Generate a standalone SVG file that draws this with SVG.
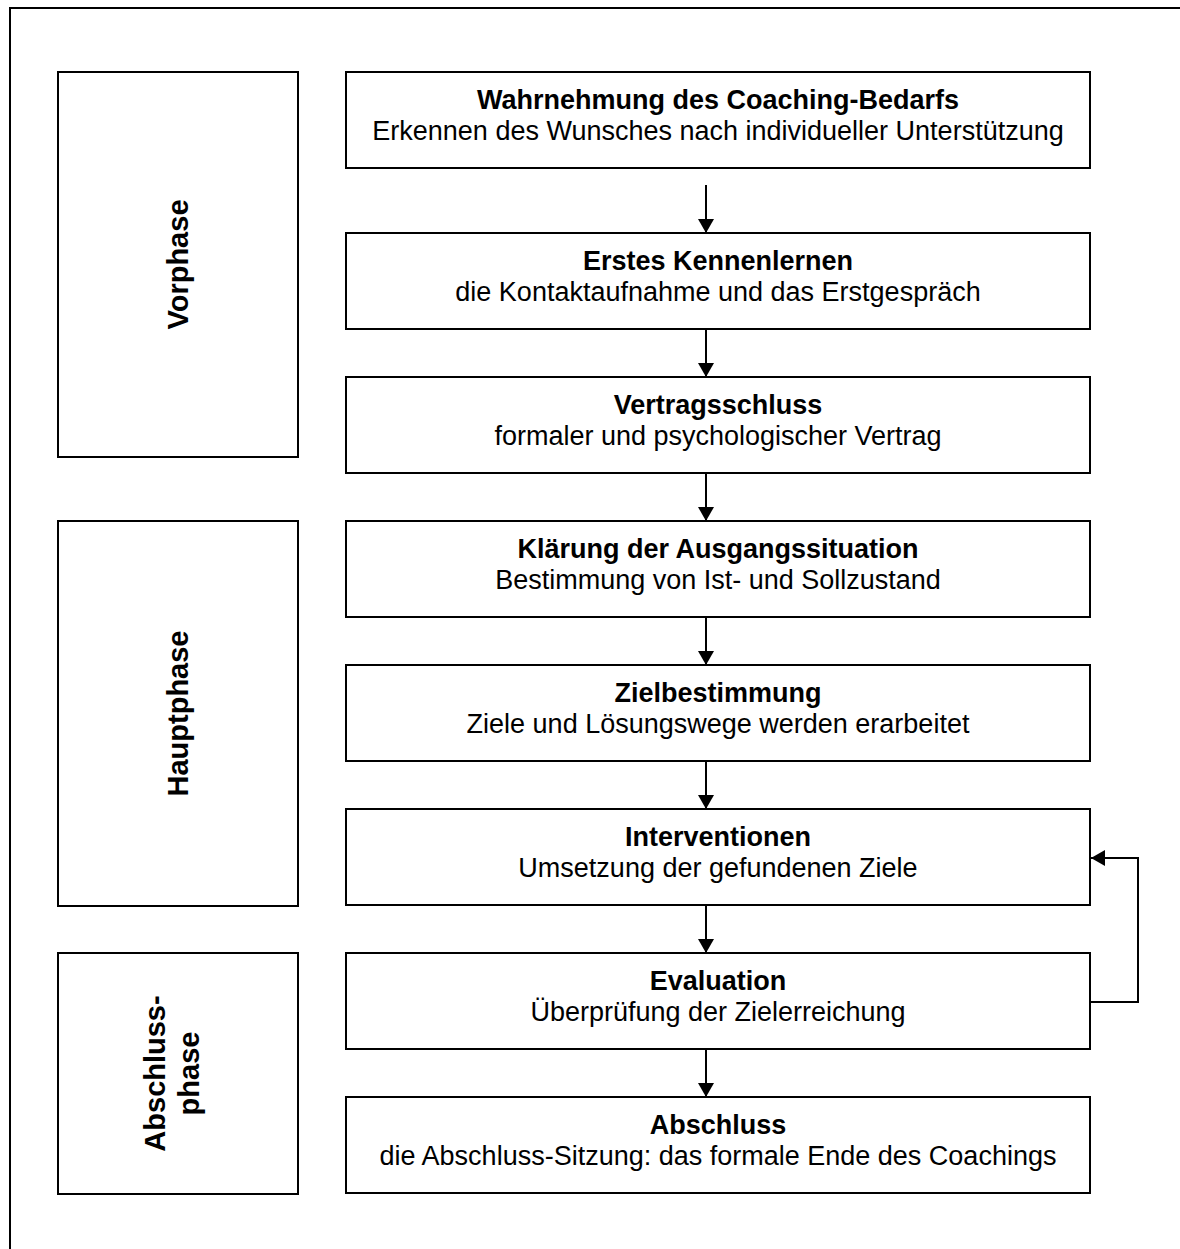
<svg xmlns="http://www.w3.org/2000/svg" width="1180" height="1249" viewBox="0 0 1180 1249">
  <style>
    .box { fill: #ffffff; stroke: #000000; stroke-width: 2; }
    .frame { fill: none; stroke: #000000; stroke-width: 2; }
    .link { fill: none; stroke: #000000; stroke-width: 2; }
    .title { font-family: "Liberation Sans", Arial, sans-serif; font-size: 27px; font-weight: bold; text-anchor: middle; fill: #000000; }
    .sub { font-family: "Liberation Sans", Arial, sans-serif; font-size: 27px; text-anchor: middle; fill: #000000; }
    .phase { font-family: "Liberation Sans", Arial, sans-serif; font-size: 29px; font-weight: bold; text-anchor: middle; fill: #000000; }
  </style>
  <defs>
    <marker id="arrow" viewBox="0 0 14 16" refX="14" refY="8" markerWidth="14" markerHeight="16" markerUnits="userSpaceOnUse" orient="auto">
      <path d="M0,0 L14,8 L0,16 Z" fill="#000000"/>
    </marker>
  </defs>

  <rect width="1180" height="1249" fill="#ffffff"/>
  <!-- page frame (runs off the right and bottom edges) -->
  <path class="frame" d="M10,1260 L10,8 L1190,8"/>

  <!-- phase boxes -->
  <g id="vorphase">
    <rect class="box" x="58" y="72" width="240" height="385"/>
    <text class="phase" transform="translate(188,264.5) rotate(-90)" x="0" y="0">Vorphase</text>
  </g>
  <g id="hauptphase">
    <rect class="box" x="58" y="521" width="240" height="385"/>
    <text class="phase" transform="translate(188,713.5) rotate(-90)" x="0" y="0">Hauptphase</text>
  </g>
  <g id="abschlussphase">
    <rect class="box" x="58" y="953" width="240" height="241"/>
    <text class="phase" transform="translate(165,1073.5) rotate(-90)" x="0" y="0">Abschluss-</text>
    <text class="phase" transform="translate(199,1073.5) rotate(-90)" x="0" y="0">phase</text>
  </g>

  <!-- process steps -->
  <g id="wahrnehmung">
    <rect class="box" x="346" y="72" width="744" height="96"/>
    <text class="title" x="718" y="109">Wahrnehmung des Coaching-Bedarfs</text>
    <text class="sub" x="718" y="140">Erkennen des Wunsches nach individueller Unterstützung</text>
  </g>
  <g id="kennenlernen">
    <rect class="box" x="346" y="233" width="744" height="96"/>
    <text class="title" x="718" y="270">Erstes Kennenlernen</text>
    <text class="sub" x="718" y="301">die Kontaktaufnahme und das Erstgespräch</text>
  </g>
  <g id="vertragsschluss">
    <rect class="box" x="346" y="377" width="744" height="96"/>
    <text class="title" x="718" y="414">Vertragsschluss</text>
    <text class="sub" x="718" y="445">formaler und psychologischer Vertrag</text>
  </g>
  <g id="klaerung">
    <rect class="box" x="346" y="521" width="744" height="96"/>
    <text class="title" x="718" y="558">Klärung der Ausgangssituation</text>
    <text class="sub" x="718" y="589">Bestimmung von Ist- und Sollzustand</text>
  </g>
  <g id="zielbestimmung">
    <rect class="box" x="346" y="665" width="744" height="96"/>
    <text class="title" x="718" y="702">Zielbestimmung</text>
    <text class="sub" x="718" y="733">Ziele und Lösungswege werden erarbeitet</text>
  </g>
  <g id="interventionen">
    <rect class="box" x="346" y="809" width="744" height="96"/>
    <text class="title" x="718" y="846">Interventionen</text>
    <text class="sub" x="718" y="877">Umsetzung der gefundenen Ziele</text>
  </g>
  <g id="evaluation">
    <rect class="box" x="346" y="953" width="744" height="96"/>
    <text class="title" x="718" y="990">Evaluation</text>
    <text class="sub" x="718" y="1021">Überprüfung der Zielerreichung</text>
  </g>
  <g id="abschluss">
    <rect class="box" x="346" y="1097" width="744" height="96"/>
    <text class="title" x="718" y="1134">Abschluss</text>
    <text class="sub" x="718" y="1165">die Abschluss-Sitzung: das formale Ende des Coachings</text>
  </g>

  <!-- connectors -->
  <g id="connectors">
    <line class="link" x1="706" y1="185" x2="706" y2="233" marker-end="url(#arrow)"/>
    <line class="link" x1="706" y1="329" x2="706" y2="377" marker-end="url(#arrow)"/>
    <line class="link" x1="706" y1="473" x2="706" y2="521" marker-end="url(#arrow)"/>
    <line class="link" x1="706" y1="617" x2="706" y2="665" marker-end="url(#arrow)"/>
    <line class="link" x1="706" y1="761" x2="706" y2="809" marker-end="url(#arrow)"/>
    <line class="link" x1="706" y1="905" x2="706" y2="953" marker-end="url(#arrow)"/>
    <line class="link" x1="706" y1="1049" x2="706" y2="1097" marker-end="url(#arrow)"/>
    <!-- feedback loop: Evaluation back to Interventionen -->
    <path class="link" d="M1090,1002 L1138,1002 L1138,858 L1091,858" marker-end="url(#arrow)"/>
  </g>
</svg>
